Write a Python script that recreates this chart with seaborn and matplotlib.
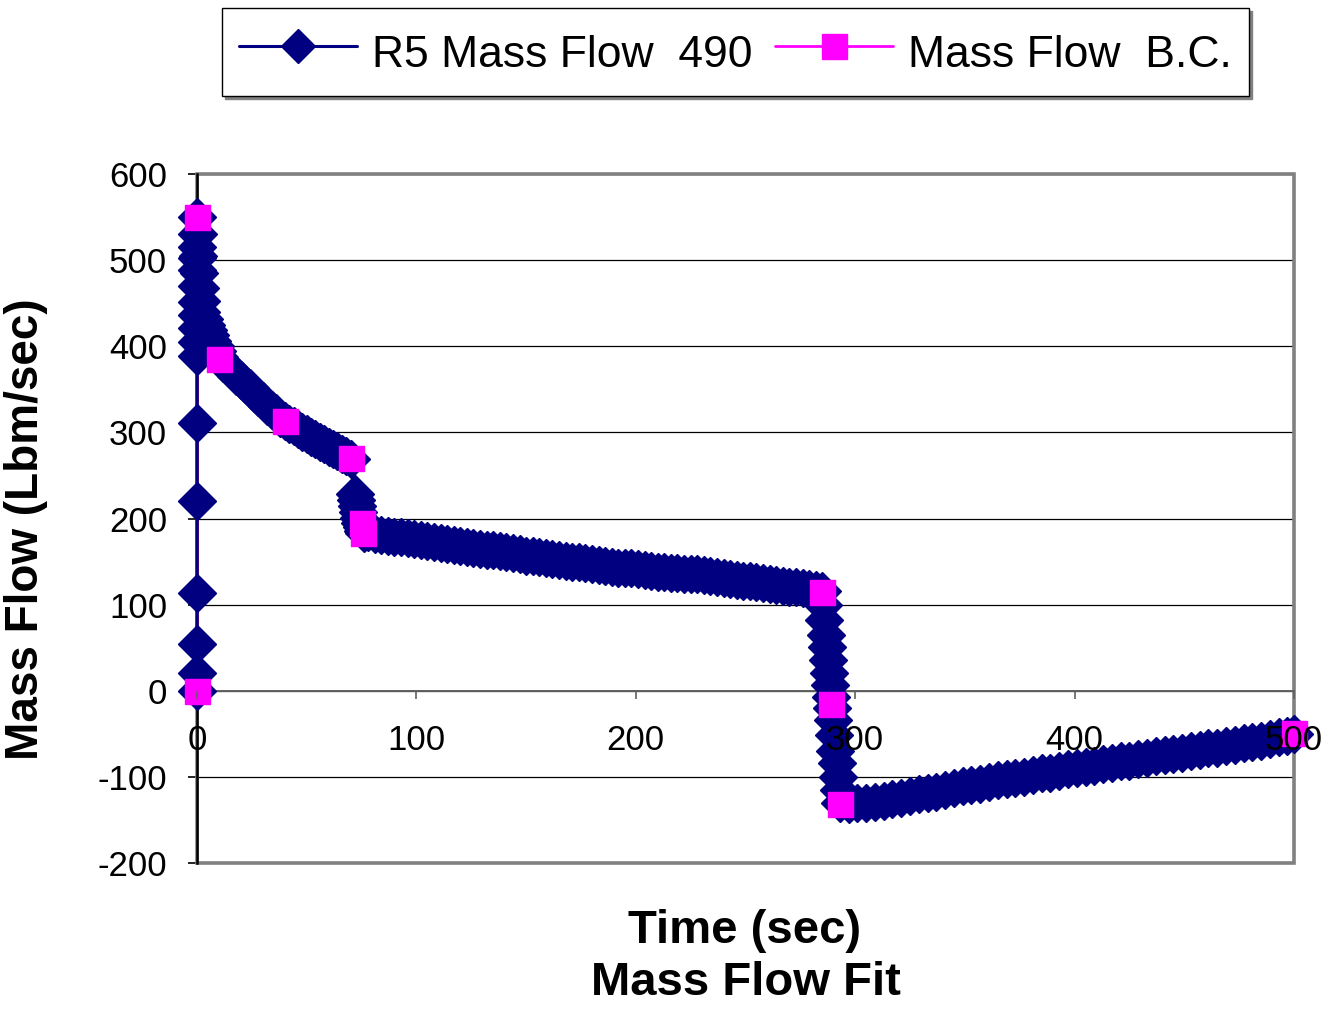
import numpy as np
import pandas as pd
import matplotlib
matplotlib.use("Agg")
import matplotlib.pyplot as plt
import seaborn as sns
from matplotlib.lines import Line2D
from matplotlib.patches import Rectangle

# ---------------- data ----------------
# R5 Mass Flow 490 : segments of the computed curve
ramp_t = [0, 0, 0, 0, 0, 0, 0, 0, 0, 0, 0, 0, 0, 0, 0, 0, 0]
ramp_v = [0, 21, 54, 114, 220, 311, 389, 405, 421, 436, 451, 470, 489, 502, 515, 530, 550]

decay_t = [0.3, 0.6, 0.9, 1.2, 1.6, 2, 3, 4, 5, 6, 7, 8, 9, 10]
decay_v = [530, 505, 485, 468, 452, 440, 432, 425, 419, 413, 406, 400, 394, 387]

segb_t = [12, 14, 16, 18, 20, 22, 24, 26, 28, 30, 32, 34, 36, 38, 40]
segb_v = [381, 376, 371, 366, 361, 356, 351, 346, 341, 336, 331, 326, 322, 317, 313]

segc_t = [42, 44, 46, 48, 50, 52, 54, 56, 58, 60, 62, 64, 66, 68, 70]
segc_v = [310, 307, 304, 301, 298, 295, 292, 289, 286, 283, 281, 278, 275, 272, 269]

segd_t = [72, 72.5, 73, 73.5, 74, 74.5, 75, 75.5, 76]
segd_v = [229, 221, 214, 207, 201, 195, 190, 186, 183]

sege_t = [78, 81, 84, 87, 90, 93, 96, 99, 102, 105, 108, 111, 114, 117, 120, 123,
          126, 129, 132, 135, 138, 141, 144, 147, 150, 153, 156, 159, 162, 165, 168,
          171, 174, 177, 180, 183, 186, 189, 192, 195, 198, 201, 204, 207, 210, 213,
          216, 219, 222, 225, 228, 231, 234, 237, 240, 243, 246, 249, 252, 255, 258,
          261, 264, 267, 270, 273, 276, 279, 282, 285]
sege_v = [184, 182, 181, 180, 179, 178, 177, 176, 175, 174, 173, 172, 170, 169, 168, 167,
          166, 165, 164, 163, 162, 161, 160, 159, 157, 156, 155, 154, 153, 152, 151,
          150, 149, 148, 147, 146, 145, 144, 143, 142, 142, 141, 140, 139, 138, 138,
          137, 137, 136, 136, 135, 134, 133, 132, 131, 130, 129, 128, 127, 126, 125,
          124, 123, 122, 121, 120, 119, 118, 117, 116]

segf_t = [285.5, 286, 286.5, 287, 287.5, 288, 288.5, 289, 289.5, 290, 290.5, 291,
          291.5, 292, 292.5, 293]
segf_v = [100, 82, 65, 51, 36, 21, 7, -7, -20, -34, -51, -70, -84, -100, -115, -130]

segg_t = [297, 301, 305, 309, 313, 317, 321, 325, 329, 333, 337, 341, 345, 349, 353,
          357, 361, 365, 369, 373, 377, 381, 385, 389, 393, 397, 401, 405, 409, 413,
          417, 421, 425, 429, 433, 437, 441, 445, 449, 453, 457, 461, 465, 469, 473,
          477, 481, 485, 489, 493, 497, 500]
segg_v = [-131, -130, -130, -129, -128, -126, -124, -122, -120, -119, -117, -115, -113,
          -111, -109, -108, -106, -104, -103, -101, -100, -98, -96, -95, -93, -91, -90,
          -88, -87, -85, -84, -82, -81, -79, -78, -76, -75, -73, -72, -70, -69, -67,
          -66, -64, -63, -61, -60, -58, -56, -54, -52, -50]

# Mass Flow B.C. : boundary-condition points
bc_t = [0, 0, 10, 40, 70, 75, 75.5, 285, 289, 293, 500]
bc_v = [0, 550, 385, 313, 270, 195, 183, 115, -15, -131, -49]

x_ticks = [0, 100, 200, 300, 400, 500]
y_ticks = [-200, -100, 0, 100, 200, 300, 400, 500, 600]

series1_label = "R5 Mass Flow  490"
series2_label = "Mass Flow  B.C."
x_title = "Time (sec)"
chart_title = "Mass Flow Fit"
y_title = "Mass Flow (Lbm/sec)"

r5 = pd.DataFrame({
    "t": ramp_t + decay_t + segb_t + segc_t + segd_t + sege_t + segf_t + segg_t,
    "v": ramp_v + decay_v + segb_v + segc_v + segd_v + sege_v + segf_v + segg_v,
})
bc = pd.DataFrame({"t": bc_t, "v": bc_v})

# ---------------- style ----------------
sns.set_style("white")
plt.rcParams["font.family"] = ["Liberation Sans", "DejaVu Sans"]
plt.rcParams["axes.unicode_minus"] = False
plt.rcParams["text.color"] = "black"
plt.rcParams["xtick.color"] = "black"
plt.rcParams["ytick.color"] = "black"
plt.rcParams["xtick.labelcolor"] = "black"
plt.rcParams["ytick.labelcolor"] = "black"

NAVY = "#000080"
MAGENTA = "#FF00FF"
D_MS = 19
S_MS = 18

W, H = 1329, 1016
fig = plt.figure(figsize=(W / 100, H / 100), dpi=100)
ax = fig.add_axes([197 / W, 1 - 863 / H, 1097 / W, 689 / H])

# magenta connecting line (underneath)
sns.lineplot(data=bc, x="t", y="v", sort=False, estimator=None, ax=ax,
             color=MAGENTA, linewidth=2, legend=False, zorder=1.2, clip_on=False)
# R5 series
sns.lineplot(data=r5, x="t", y="v", sort=False, estimator=None, ax=ax,
             color=NAVY, linewidth=2.2, marker="D", markersize=D_MS,
             markeredgewidth=1, markeredgecolor=NAVY, legend=False,
             zorder=2, clip_on=False)
# BC markers on top
sns.scatterplot(data=bc, x="t", y="v", ax=ax, marker="s", s=S_MS ** 2,
                color=MAGENTA, edgecolor=MAGENTA, linewidth=1, legend=False,
                zorder=3, clip_on=False)

ax.set_xlim(0, 500)
ax.set_ylim(-200, 600)
ax.set_xticks(x_ticks)
ax.set_yticks(y_ticks)
ax.set_xlabel("")
ax.set_ylabel("")

# axes styling
ax.set_axisbelow(True)
ax.yaxis.grid(True, color="black", linewidth=0.9)
ax.xaxis.grid(False)
ax.xaxis.set_zorder(4)
for s in ["top", "right"]:
    ax.spines[s].set_visible(False)
ax.spines["bottom"].set_position(("data", 0))
ax.spines["bottom"].set_color("#606060")
ax.spines["bottom"].set_linewidth(1.4)
ax.spines["bottom"].set_zorder(1)
ax.spines["left"].set_color("black")
ax.spines["left"].set_linewidth(1.8)
ax.spines["left"].set_zorder(1.1)

frame = Rectangle((0, 0), 1, 1, transform=ax.transAxes, fill=False,
                  edgecolor="#808080", linewidth=2.6, zorder=0.9, clip_on=False)
ax.add_patch(frame)

ax.tick_params(axis="y", which="both", direction="out", left=True, length=6.5,
               width=1.2, color="black", pad=15, labelsize=25)
ax.tick_params(axis="x", which="both", direction="out", bottom=True, length=6,
               width=1.2, color="#606060", pad=18, labelsize=25)

# titles
fig.text(745 / W, 1 - 943 / H, x_title, ha="center", va="baseline",
         fontsize=34, fontweight="bold")
fig.text(746 / W, 1 - 995 / H, chart_title, ha="center", va="baseline",
         fontsize=34, fontweight="bold")
fig.text(26 / W, 1 - 529 / H, y_title, ha="center", va="center", rotation=90,
         fontsize=33, fontweight="bold")

# legend
h1 = Line2D([], [], color=NAVY, linewidth=2.2, marker="D", markersize=17,
            markeredgecolor=NAVY)
h2 = Line2D([], [], color=MAGENTA, linewidth=2, marker="s", markersize=S_MS,
            markeredgecolor=MAGENTA)
leg = fig.legend([h1, h2], [series1_label, series2_label], loc="upper left",
                 bbox_to_anchor=(222 / W, 1 - 8 / H), ncol=2, fontsize=32,
                 frameon=True, fancybox=False, edgecolor="black",
                 borderpad=0.38, handlelength=2.66, handletextpad=0.34,
                 columnspacing=0.5, borderaxespad=0, handleheight=1.5,
                 shadow={"color": "#808080", "alpha": 1.0})
leg.get_frame().set_linewidth(1.0)

fig.savefig("out.png", dpi=100)
